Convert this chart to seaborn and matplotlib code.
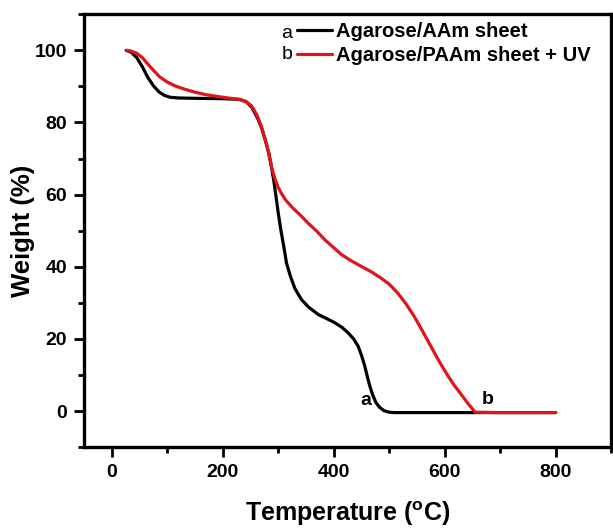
# TGA curves of the two agarose sheets
import pandas as pd
import matplotlib.pyplot as plt
import seaborn as sns
from matplotlib.ticker import MultipleLocator

# Curve a: Agarose/AAm sheet
temp_a = [26, 35, 45, 55, 65, 75, 85, 95, 105, 120, 150, 200, 230, 242, 252, 262, 270,
          277, 283, 288, 292, 296, 300, 305, 310, 315, 322, 330, 342, 355, 372, 388, 402,
          415, 426, 436, 444, 450, 456, 461, 465, 470, 476, 483, 491, 500, 509, 600, 700, 800]
weight_a = [100, 99.5, 98, 95.5, 92.5, 90.2, 88.5, 87.5, 87, 86.8, 86.7, 86.6, 86.4, 85.8,
            84.3, 81.5, 78.5, 75, 71.5, 67.5, 64, 59.5, 55, 50, 45.7, 41, 37.4, 34, 30.9,
            28.8, 26.8, 25.6, 24.5, 23.2, 21.7, 20, 18, 15.5, 12.5, 9.3, 7, 4.6, 2.4, 1,
            0.1, -0.3, -0.4, -0.4, -0.4, -0.4]

# Curve b: Agarose/PAAm sheet + UV
temp_b = [27, 35, 45, 55, 65, 75, 86, 100, 115, 130, 150, 170, 200, 229, 242, 252, 262,
          270, 277, 283, 289, 295, 300, 306, 313, 325, 340, 354, 370, 384, 400, 414, 430,
          450, 468, 485, 500, 515, 530, 545, 560, 575, 590, 605, 617, 628, 640, 650, 655,
          700, 800]
weight_b = [100, 99.8, 99.2, 98, 96.2, 94.5, 92.7, 91.2, 90.1, 89.3, 88.4, 87.7, 87, 86.4,
            85.8, 84.6, 82, 78.7, 75, 71.5, 67, 64, 62, 60.3, 58.6, 56.5, 54.3, 52.1, 49.8,
            47.5, 45.3, 43.4, 41.8, 40.1, 38.6, 36.9, 35.2, 32.8, 29.8, 26.3, 22.2, 18,
            13.8, 10, 7.2, 5, 2.5, 0.6, -0.3, -0.4, -0.4]

df_a = pd.DataFrame({"Temperature": temp_a, "Weight": weight_a})
df_b = pd.DataFrame({"Temperature": temp_b, "Weight": weight_b})

sns.set_style("ticks")
plt.rcParams["font.family"] = ["Liberation Sans", "DejaVu Sans"]
plt.rcParams["text.color"] = "black"
plt.rcParams["axes.labelcolor"] = "black"

fig = plt.figure(figsize=(6.13, 5.28), dpi=100)
ax = fig.add_axes([0.137, 0.153, 0.86, 0.82])

sns.lineplot(data=df_a, x="Temperature", y="Weight", sort=False, color="black",
             linewidth=2.3, ax=ax, label="Agarose/AAm sheet")
sns.lineplot(data=df_b, x="Temperature", y="Weight", sort=False, color="#e0141b",
             linewidth=2.3, ax=ax, label="Agarose/PAAm sheet + UV")

ax.set_xlim(-50, 900)
ax.set_ylim(-10, 110)
ax.xaxis.set_major_locator(MultipleLocator(200))
ax.xaxis.set_minor_locator(MultipleLocator(100))
ax.yaxis.set_major_locator(MultipleLocator(20))
ax.yaxis.set_minor_locator(MultipleLocator(10))

for side in ["left", "bottom", "top", "right"]:
    ax.spines[side].set_visible(True)
    ax.spines[side].set_linewidth(2.4)
    ax.spines[side].set_color("black")
ax.tick_params(which="major", direction="out", length=7, width=2, labelsize=14,
               pad=5, colors="black")
ax.tick_params(which="minor", direction="out", length=4, width=2, colors="black")
for lab in ax.get_xticklabels() + ax.get_yticklabels():
    lab.set_fontweight("bold")

ax.set_xlabel("Temperature ($^{\\mathregular{o}}$C)", fontsize=18, fontweight="bold", labelpad=13)
ax.set_ylabel("Weight (%)", fontsize=18.5, fontweight="bold", labelpad=0)

leg = ax.legend(loc="upper left", bbox_to_anchor=(0.404, 0.983), frameon=False,
                borderpad=0, borderaxespad=0, handlelength=1.75, handletextpad=0.2,
                labelspacing=0.25, prop={"weight": "bold", "size": 14.5})
ax.text(0.395, 0.955, "a", transform=ax.transAxes, fontsize=14, ha="right", va="center")
ax.text(0.395, 0.906, "b", transform=ax.transAxes, fontsize=14, ha="right", va="center")

ax.text(458, 3, "a", fontsize=14, fontweight="bold", ha="center", va="center")
ax.text(678, 3.3, "b", fontsize=14, fontweight="bold", ha="center", va="center")

plt.savefig("out.png", dpi=100)
